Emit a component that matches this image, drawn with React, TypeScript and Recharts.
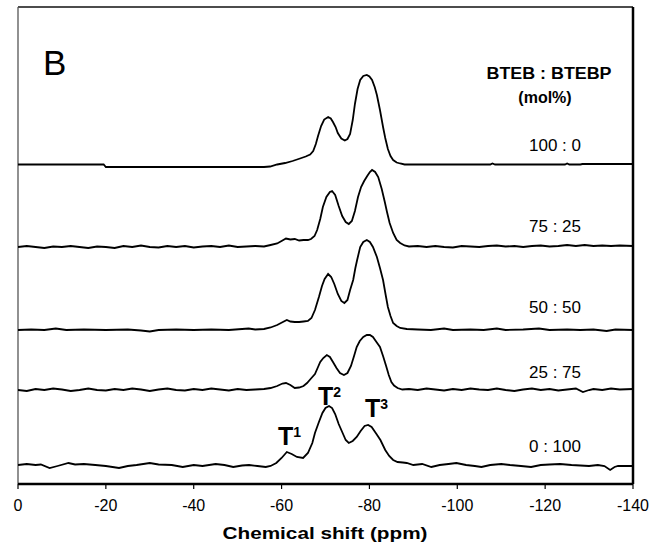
import { Line, LineChart, ReferenceLine, XAxis, YAxis } from "recharts";

// 29Si NMR traces, ppm vs intensity (height above each trace's own baseline)
const spec100_0: [number, number][] = [
  [0, 2.5], [-5, 2.5], [-10, 2.5], [-15, 2.5], [-19.5, 2.5], [-20, 0], [-30, 0], [-40, 0], [-50, 0], [-56, 0],
  [-57.4, 0.5], [-59, 2.5], [-60.8, 4], [-62.5, 6], [-64.2, 8.5], [-65.5, 10.5], [-66.5, 12.5], [-67.2, 16],
  [-67.8, 23], [-68.3, 31], [-69, 41], [-69.7, 47.5], [-70.6, 50], [-71.2, 48.5], [-71.7, 45], [-72.3, 40],
  [-72.8, 34], [-73.6, 28.5], [-74.4, 26.5], [-75, 28], [-75.6, 33], [-76.2, 47], [-76.7, 63], [-77.3, 78],
  [-77.9, 87], [-78.6, 91], [-79.4, 92], [-80, 90.5], [-80.6, 87], [-81.2, 80], [-81.7, 72], [-82.4, 57],
  [-83.1, 40], [-83.6, 29], [-84.2, 18], [-84.8, 11], [-85.4, 7], [-86.2, 4.5], [-87, 3.5], [-88, 2.5],
  [-89.2, 2.5], [-100, 2.5], [-107.5, 2.5], [-108, 3.5], [-108.6, 2.5], [-124.5, 2.5], [-125, 3.5],
  [-125.5, 2.5], [-128, 2.5], [-128.5, 3], [-140, 3]
];

const spec75_25: [number, number][] = [
  [0, 0], [-2, 1], [-4, 0], [-6, -1], [-8, 0.5], [-10, 0], [-12, 1], [-14, 0], [-16, -1], [-18, 0.5], [-20, 0],
  [-22, -1], [-24, 1], [-26, 0], [-28, 1.5], [-30, 0], [-32, -0.5], [-34, 1], [-36, 0], [-38, 1], [-40, -0.5],
  [-42, 0.5], [-44, 1], [-46, 0], [-48, 1.5], [-50, 0], [-52, 0.5], [-54, 1], [-56, 0.5], [-57.5, 2], [-59, 3.5],
  [-60, 6], [-61, 8.5], [-62, 7.5], [-63, 8], [-64, 6.5], [-65, 7], [-66, 7], [-66.7, 8], [-67.5, 11],
  [-68.1, 17], [-68.8, 28], [-69.4, 40], [-70.2, 50], [-71, 55], [-71.5, 56], [-72.2, 52], [-73, 41],
  [-73.8, 31], [-74.6, 25], [-75.3, 23], [-76, 26], [-76.7, 36], [-77.4, 50], [-78.1, 60], [-78.8, 66],
  [-79.5, 71], [-80.1, 75], [-80.6, 77], [-81.3, 75], [-82, 70], [-82.8, 58], [-83.5, 45], [-84, 35],
  [-84.6, 24], [-85.4, 14], [-86.2, 7], [-87, 4], [-88, 1.5], [-89, 0.5], [-91, 1], [-93, 0], [-95, 1],
  [-97, 0], [-99, -0.5], [-101, 1], [-103, 0.5], [-105, 0], [-107, 1], [-109, 1.5], [-111, 0.5], [-113, 1],
  [-115, 0], [-117, 1], [-119, 1.5], [-121, 0.5], [-123, 1], [-125, 2], [-127, 1], [-129, 2], [-131, 1],
  [-133, 1.5], [-135, 1], [-137, 1.5], [-140, 1]
];

const spec50_50: [number, number][] = [
  [0, 0], [-3, 0.5], [-6, 0], [-8.6, 1.5], [-11, 0], [-15, 0.5], [-20, 0], [-25, 0.5], [-28, -0.5], [-30, -1.5],
  [-32, 0], [-36, 0.5], [-40, 0], [-44, 0.5], [-48, 0], [-52.5, 1.5], [-54, 0.5], [-56, 1], [-57.5, 2.5],
  [-59, 5], [-60.3, 8], [-61.2, 10], [-62, 8.5], [-63, 8], [-64, 8], [-65, 8.5], [-66, 9], [-66.8, 12],
  [-67.6, 20], [-68.5, 33], [-69.2, 44], [-69.8, 51], [-70.6, 56], [-71.3, 53], [-72, 46], [-72.8, 36],
  [-73.6, 29], [-74.3, 27], [-75, 30], [-75.6, 40], [-76.3, 50], [-76.8, 62], [-77.2, 70], [-77.9, 83],
  [-78.6, 88], [-79.4, 90], [-80.1, 88], [-80.8, 83], [-81.7, 73], [-82.4, 62], [-83.1, 50], [-83.7, 35],
  [-84.2, 23], [-84.8, 14], [-85.4, 7], [-86.2, 4], [-87, 2], [-88.5, 1], [-91, 0.5], [-94, 0], [-97, 1.5],
  [-99, 0], [-103, 0.5], [-106, 0], [-109, 1.5], [-111, 0], [-115, 0.5], [-118.6, 1.5], [-121, 0], [-125, 0.5],
  [-128, 0], [-131, 0.5], [-134, -1], [-136, 0.5], [-140, 0]
];

const spec25_75: [number, number][] = [
  [0, 0], [-2, -1], [-4, 1], [-6, 0], [-8, 1.5], [-10, 0.5], [-12, -1], [-14, 0], [-16, 1.5], [-18, 0],
  [-20, -0.5], [-22, 1], [-24, 0], [-26, 1.5], [-28, 0.5], [-30, -1], [-32, 0.5], [-34, 1.5], [-36, 0],
  [-38, -0.5], [-40, 1], [-42, 0], [-44, 1.5], [-46, 0.5], [-48, -0.5], [-50, 1], [-52, 0], [-54, 0.5],
  [-56, 1], [-57.5, 2], [-59, 4], [-60.2, 6.5], [-61, 7], [-62, 5], [-63, 2], [-64, 2.5], [-65, 4],
  [-65.8, 7], [-66.6, 11], [-67.6, 16], [-68.3, 23], [-68.8, 28], [-69.5, 32], [-70.3, 35], [-71, 33],
  [-71.7, 28], [-72.5, 22], [-73.3, 17], [-74.2, 15], [-75, 17], [-75.8, 24], [-76.5, 34], [-77.1, 43],
  [-77.8, 49], [-78.6, 53], [-79.4, 55], [-80.1, 55], [-80.8, 53], [-81.6, 48], [-82.4, 43], [-83.1, 34],
  [-83.8, 24], [-84.4, 15], [-85, 8], [-85.6, 4.5], [-86.4, 2], [-87.5, 0.5], [-89, 1], [-91, 0], [-93, 1.5],
  [-95, 0.5], [-97, -0.5], [-99, 1], [-101, 0], [-103, 1.5], [-105, 0.5], [-107, 0], [-109, 1.5], [-111, 0],
  [-113, -1], [-115, 0.5], [-117, 1.5], [-119, 0], [-121, 1], [-123, -0.5], [-125, 0.5], [-127, 1.5],
  [-128.6, -2], [-130, 0], [-131, 1], [-133, 0], [-135, 1.5], [-137, 0.5], [-140, 1]
];

const spec0_100: [number, number][] = [
  [0, 0], [-2, 1], [-4, 0], [-5.2, 0.5], [-7.2, -3], [-9, -1], [-11.5, 2], [-13, 0.5], [-15, 1], [-17.6, 0],
  [-20, -1], [-23, -3], [-25, -1], [-27, 0], [-30, 2], [-32, 0.5], [-35, 0], [-37.5, -2], [-40, 0], [-42, -1],
  [-45, 1], [-47, 0], [-49, -2], [-51, -0.5], [-52.6, 0], [-54.5, -1], [-56.4, -2], [-57.5, -1], [-58.8, 2],
  [-60, 7], [-61.2, 13], [-62.3, 11], [-63.5, 8], [-64.9, 7], [-66, 12], [-67, 22], [-67.6, 32], [-68.5, 43],
  [-69.3, 52], [-70, 57], [-70.8, 59], [-71.5, 57], [-72.2, 51], [-73, 41], [-73.9, 32], [-74.6, 25],
  [-75.3, 22], [-76.2, 24], [-77.1, 28], [-78, 34], [-78.9, 39], [-79.7, 40], [-80.5, 38], [-81.6, 31],
  [-82.5, 25], [-83.6, 15], [-84.5, 9], [-85.4, 5], [-86.4, 3], [-87.6, 2.5], [-88.5, 2], [-90, 0], [-92, 1],
  [-94.1, -2], [-96, 0], [-98, 1], [-99.8, 2], [-102, 0], [-104, -1], [-105.5, -2], [-107.5, 0], [-110, 1],
  [-112, 0], [-114.5, -1], [-116.8, -2], [-119, 0], [-121, 0.5], [-123.4, 1], [-126, 0], [-128, -0.5],
  [-130, -1], [-132, 0], [-133.5, -1], [-134.8, -5], [-135.8, -2], [-136.6, -1], [-138, -1], [-140, -1]
];

// stack offsets (intensity units) so the spectra sit one above another
const spectra = [spec100_0, spec75_25, spec50_50, spec25_75, spec0_100];
const stackOffsets = [317, 237, 154, 94, 19];
const ratioLabels = ["100 : 0", "75 : 25", "50 : 50", "25 : 75", "0 : 100"];
const ratioLabelY = [151, 232, 313, 378, 452];
const xTicks = [0, -20, -40, -60, -80, -100, -120, -140];
const Y_MAX = 477;

const FONT = "'Liberation Sans', Arial, Helvetica, sans-serif";
const W = 651;
const H = 551;

export default function App() {
  const series = spectra.map((pts, i) => pts.map(([ppm, h]) => ({ ppm, v: stackOffsets[i] + h })));

  return (
    <div style={{ position: "absolute", left: 0, top: 0, width: W, height: H, background: "#fff" }}>
      <LineChart width={W} height={H} margin={{ top: 7, right: 18, bottom: 27, left: 18 }}>
        <XAxis
          dataKey="ppm"
          type="number"
          domain={[-140, 0]}
          reversed
          ticks={xTicks}
          interval={0}
          allowDataOverflow
          height={40}
          tickSize={5}
          tickMargin={11}
          axisLine={{ stroke: "#000", strokeWidth: 2.5 }}
          tickLine={{ stroke: "#000", strokeWidth: 1.2 }}
          tick={{ fill: "#000", fontSize: 16, fontFamily: FONT }}
        />
        <YAxis type="number" domain={[0, Y_MAX]} hide allowDataOverflow />
        {/* frame: top, left and right edges */}
        <ReferenceLine y={Y_MAX} stroke="#111" strokeWidth={1.5} />
        <ReferenceLine x={0} stroke="#555" strokeWidth={1.3} />
        <ReferenceLine x={-140} stroke="#000" strokeWidth={2.5} />
        {series.map((rows, i) => (
          <Line
            key={ratioLabels[i]}
            data={rows}
            dataKey="v"
            type="linear"
            stroke="#000"
            strokeWidth={1.8}
            dot={false}
            activeDot={false}
            isAnimationActive={false}
          />
        ))}
      </LineChart>

      <svg width={W} height={H} style={{ position: "absolute", left: 0, top: 0, pointerEvents: "none" }} fontFamily={FONT}>
        <text x={43} y={75} fontSize={35} fill="#000">B</text>
        <text x={549} y={79} fontSize={16} fontWeight="bold" textAnchor="middle" textLength={125} lengthAdjust="spacingAndGlyphs">
          BTEB : BTEBP
        </text>
        <text x={545} y={103} fontSize={16} fontWeight="bold" textAnchor="middle">(mol%)</text>
        {ratioLabels.map((t, i) => (
          <text key={t} x={581} y={ratioLabelY[i]} fontSize={17} textAnchor="end">{t}</text>
        ))}
        <text x={278} y={445} fontSize={25} fontWeight="bold">
          T<tspan fontSize={14} dy={-8}>1</tspan>
        </text>
        <text x={318} y={405} fontSize={25} fontWeight="bold">
          T<tspan fontSize={14} dy={-8}>2</tspan>
        </text>
        <text x={365} y={417} fontSize={25} fontWeight="bold">
          T<tspan fontSize={14} dy={-8}>3</tspan>
        </text>
        <text x={325} y={539} fontSize={17} fontWeight="bold" textAnchor="middle" textLength={205} lengthAdjust="spacingAndGlyphs">
          Chemical shift (ppm)
        </text>
      </svg>
    </div>
  );
}
